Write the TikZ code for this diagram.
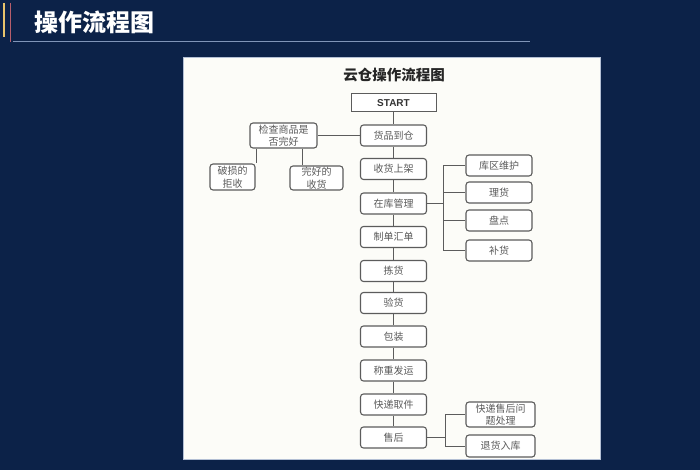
\documentclass[tikz,border=0pt]{standalone}
\usepackage{fontspec}
\setmainfont{Liberation Sans}
\newfontfamily\cjk{Noto Sans CJK SC}
\usetikzlibrary{positioning}
\definecolor{navy}{HTML}{0C2248}
\definecolor{paper}{HTML}{FCFCF8}
\definecolor{boxline}{HTML}{5C5C5C}
\definecolor{boxtext}{HTML}{5A5A5A}
\definecolor{rule}{HTML}{8095B8}
\definecolor{goldbar}{HTML}{E8C46C}
\definecolor{redbar}{HTML}{B65E6C}
\tikzstyle{stage}=[draw=boxline,line width=1.1pt,rounded corners=3pt,fill=white,minimum width=66pt,minimum height=21pt,inner sep=0pt,align=center,text=boxtext,font=\cjk\fontsize{10}{12.5}\selectfont]
\tikzstyle{link} = [draw=boxline,line width=1pt,-]

\begin{document}
\begin{tikzpicture}[x=1pt,y=-1pt]
      \fill[navy] (0,0) rectangle (700,470);
      \useasboundingbox (0,0) rectangle (700,470);
      % page heading
      \draw[goldbar,line width=2.6pt] (4,3) -- (4,37);
      \draw[redbar,line width=1.3pt] (10.5,3) -- (10.5,42);
      \draw[rule,line width=1.4pt] (13,41.7) -- (530,41.7);
      \node[text=white,font=\cjk\bfseries\fontsize{24}{26}\selectfont,anchor=west] (heading) at (31,22) {操作流程图};
      % panel
      \draw[fill=paper,draw=rule!60,line width=0.6pt] (183,57) rectangle (600,459);
      \node[font=\cjk\bfseries\fontsize{14.5}{16}\selectfont,text=black!85] (charttitle) at (394,75) {云仓操作流程图};
      \node[draw=boxline,line width=1pt,fill=white,minimum width=85pt,minimum height=18pt,inner sep=0pt,font=\bfseries\fontsize{10}{12}\selectfont,text=black!80] (start) at (393.5,103) {START};
      % main column
      \node[stage] (arrive) at (393.5,135.5) {货品到仓};
      \node[stage] (shelve) at (393.5,169) {收货上架};
      \node[stage] (store) at (393.5,203.5) {在库管理};
      \node[stage] (order) at (393.5,237) {制单汇单};
      \node[stage] (pick) at (393.5,271) {拣货};
      \node[stage] (inspect) at (393.5,303) {验货};
      \node[stage] (pack) at (393.5,336.5) {包装};
      \node[stage] (ship) at (393.5,370.5) {称重发运};
      \node[stage] (collect) at (393.5,404.5) {快递取件};
      \node[stage] (after) at (393.5,437.5) {售后};
      % left branch
      \node[stage,minimum width=67pt,minimum height=25pt] (check) at (283.5,135.5) {检查商品是\\否完好};
      \node[stage,minimum width=45pt,minimum height=26pt] (broken) at (232.5,177) {破损的\\拒收};
      \node[stage,minimum width=53pt,minimum height=24pt] (intact) at (316.5,178) {完好的\\收货};
      % right branches
      \node[stage] (maint) at (499,165.5) {库区维护};
      \node[stage] (tally) at (499,192.5) {理货};
      \node[stage] (count) at (499,220.5) {盘点};
      \node[stage] (refill) at (499,250.5) {补货};
      \node[stage,minimum width=69pt,minimum height=25pt] (issue) at (500.5,414.5) {快递售后问\\题处理};
      \node[stage,minimum width=69pt,minimum height=22pt] (restock) at (500.5,446) {退货入库};
      \coordinate (hubA) at (443,203.5);
      \coordinate (hubB) at (445,437.5);
      % connectors
      \draw[link] (start) -- (arrive) -- (shelve) -- (store) -- (order) -- (pick)
            -- (inspect) -- (pack) -- (ship) -- (collect) -- (after);
      \draw[link] (arrive) -- (check);
      \draw[link] ([xshift=-27.5pt]check.south) -- ([xshift=-27.5pt]check.south |- broken.north);
      \draw[link] ([xshift=18.5pt]check.south) -- ([xshift=18.5pt]check.south |- intact.north);
      \draw[link] (store.east) -- (hubA);
      \draw[link] (hubA |- maint) -- (hubA |- refill);
      \foreach \n in {maint,tally,count,refill}
            \draw[link] (hubA |- \n) -- (\n.west);
      \draw[link] (after.east) -- (hubB);
      \draw[link] (hubB |- issue) -- (hubB |- restock);
      \foreach \n in {issue,restock}
            \draw[link] (hubB |- \n) -- (\n.west);
\end{tikzpicture}
\end{document}
